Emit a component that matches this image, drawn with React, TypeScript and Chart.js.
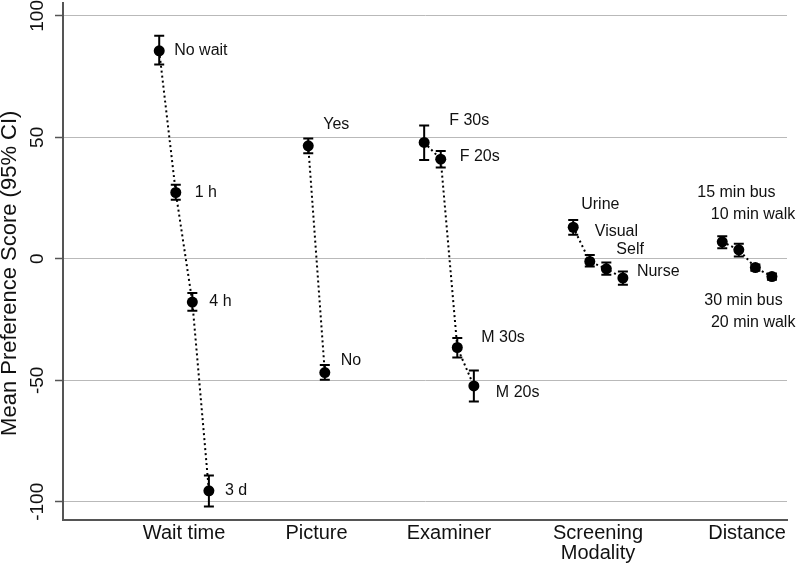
import React, { useEffect, useRef } from "react";
import { Chart, registerables } from "chart.js";

Chart.register(...registerables);

// ---- categories / axis ----
const groupNames: string[][] = [["Wait time"], ["Picture"], ["Examiner"], ["Screening", "Modality"], ["Distance"]];
const groupCenters = [2.5, 10.5, 18.5, 27.5, 36.5];
const yTicks = [-100, -50, 0, 50, 100];
const yTitle = "Mean Preference Score (95% CI)";

// ---- Wait time ----
const waitLabels = ["No wait", "1 h", "4 h", "3 d"];
const waitX = [1, 2, 3, 4];
const waitMean = [85.6, 27.3, -17.8, -95.5];
const waitLo = [80.0, 24.3, -21.4, -101.9];
const waitHi = [91.8, 30.5, -14.1, -89.2];
const waitDx = [15, 19, 17, 16];
const waitDy = [0, 0, 0, 0];

// ---- Picture ----
const pictureLabels = ["Yes", "No"];
const pictureX = [10, 11];
const pictureMean = [46.5, -46.8];
const pictureLo = [43.5, -49.8];
const pictureHi = [49.5, -43.7];
const pictureDx = [15, 16];
const pictureDy = [-21, -12];

// ---- Examiner ----
const examinerLabels = ["F 30s", "F 20s", "M 30s", "M 20s"];
const examinerX = [17, 18, 19, 20];
const examinerMean = [47.9, 41.0, -36.5, -52.3];
const examinerLo = [40.7, 37.6, -40.6, -58.7];
const examinerHi = [54.9, 44.4, -32.6, -46.0];
const examinerDx = [25, 19, 24, 22];
const examinerDy = [-22, -3, -10, 7];

// ---- Screening Modality ----
const screeningLabels = ["Urine", "Visual", "Self", "Nurse"];
const screeningX = [26, 27, 28, 29];
const screeningMean = [13.0, -1.1, -4.1, -7.9];
const screeningLo = [9.9, -3.2, -6.6, -10.7];
const screeningHi = [16.0, 1.6, -1.5, -5.2];
const screeningDx = [8, 5, 10, 14];
const screeningDy = [-23, -30, -19, -6];

// ---- Distance ----
const distanceLabels = ["15 min bus", "10 min walk", "30 min bus", "20 min walk"];
const distanceX = [35, 36, 37, 38];
const distanceMean = [7.0, 3.7, -3.6, -7.3];
const distanceLo = [4.4, 1.0, -4.9, -8.6];
const distanceHi = [9.3, 6.2, -2.3, -6.0];
const distanceDx = [-25, -28, -51, -61];
const distanceDy = [-49, -35, 33, 46];

type Group = { labels: string[]; x: number[]; mean: number[]; lo: number[]; hi: number[]; dx: number[]; dy: number[] };
const groups: Group[] = [
  { labels: waitLabels, x: waitX, mean: waitMean, lo: waitLo, hi: waitHi, dx: waitDx, dy: waitDy },
  { labels: pictureLabels, x: pictureX, mean: pictureMean, lo: pictureLo, hi: pictureHi, dx: pictureDx, dy: pictureDy },
  { labels: examinerLabels, x: examinerX, mean: examinerMean, lo: examinerLo, hi: examinerHi, dx: examinerDx, dy: examinerDy },
  { labels: screeningLabels, x: screeningX, mean: screeningMean, lo: screeningLo, hi: screeningHi, dx: screeningDx, dy: screeningDy },
  { labels: distanceLabels, x: distanceX, mean: distanceMean, lo: distanceLo, hi: distanceHi, dx: distanceDx, dy: distanceDy },
];

const FONT = "'Liberation Sans', Arial, Helvetica, sans-serif";

export default function App() {
  const ref = useRef<HTMLCanvasElement>(null);

  useEffect(() => {
    if (!ref.current) return;

    const datasets = groups.map((g) => ({
      type: "line" as const,
      data: g.x.map((x, i) => ({ x, y: g.mean[i] })),
      borderColor: "#000",
      borderWidth: 2,
      borderDash: [2, 3],
      pointRadius: 5.5,
      pointBackgroundColor: "#000",
      pointBorderColor: "#000",
      pointBorderWidth: 0,
      tension: 0,
      fill: false,
    }));

    const errorBars = {
      id: "errorBars",
      afterDatasetsDraw(chart: any) {
        const { ctx, scales } = chart;
        const xs = scales.x;
        const ys = scales.y;
        ctx.save();
        ctx.strokeStyle = "#000";
        ctx.lineWidth = 2;
        ctx.setLineDash([]);
        groups.forEach((g) => {
          g.x.forEach((xv, i) => {
            const px = xs.getPixelForValue(xv);
            const pLo = ys.getPixelForValue(g.lo[i]);
            const pHi = ys.getPixelForValue(g.hi[i]);
            ctx.beginPath();
            ctx.moveTo(px, pLo);
            ctx.lineTo(px, pHi);
            ctx.moveTo(px - 5, pLo);
            ctx.lineTo(px + 5, pLo);
            ctx.moveTo(px - 5, pHi);
            ctx.lineTo(px + 5, pHi);
            ctx.stroke();
          });
        });
        ctx.restore();
      },
    };

    const markerLabels = {
      id: "markerLabels",
      afterDatasetsDraw(chart: any) {
        const { ctx, scales } = chart;
        ctx.save();
        ctx.fillStyle = "#111";
        ctx.font = `16px ${FONT}`;
        ctx.textAlign = "left";
        ctx.textBaseline = "middle";
        groups.forEach((g) => {
          g.x.forEach((xv, i) => {
            const px = scales.x.getPixelForValue(xv);
            const py = scales.y.getPixelForValue(g.mean[i]);
            ctx.fillText(g.labels[i], px + g.dx[i], py + g.dy[i]);
          });
        });
        ctx.restore();
      },
    };

    // y-axis title, centred a little below the middle of the axis as in the reference
    const yAxisTitle = {
      id: "yAxisTitle",
      afterDraw(chart: any) {
        const { ctx, chartArea } = chart;
        ctx.save();
        ctx.fillStyle = "#111";
        ctx.font = `22px ${FONT}`;
        ctx.textAlign = "center";
        ctx.textBaseline = "middle";
        ctx.translate(10, (chartArea.top + chartArea.bottom) / 2 + 12);
        ctx.rotate(-Math.PI / 2);
        ctx.fillText(yTitle, 0, 0);
        ctx.restore();
      },
    };

    const chart = new Chart(ref.current, {
      type: "line",
      data: { datasets: datasets as any },
      options: {
        responsive: false,
        animation: false,
        layout: { autoPadding: false, padding: { top: 3, right: 12, left: 0, bottom: 0 } },
        plugins: { legend: { display: false }, tooltip: { enabled: false } },
        scales: {
          x: {
            type: "linear",
            min: -4.81,
            max: 38.91,
            afterBuildTicks: (s: any) => {
              s.ticks = groupCenters.map((v) => ({ value: v }));
            },
            afterFit: (s: any) => {
              s.height = 47.5;
              s.paddingLeft = 0;
              s.paddingRight = 0;
            },
            grid: { display: false, drawTicks: false },
            border: { display: true, color: "#555", width: 2 },
            ticks: {
              autoSkip: false,
              minRotation: 0,
              maxRotation: 0,
              padding: 4,
              color: "#111",
              font: { family: FONT, size: 20, lineHeight: 1.0 },
              callback: (_v: any, i: number) => groupNames[i],
            },
          },
          y: {
            type: "linear",
            min: -107.3,
            max: 105.3,
            afterBuildTicks: (s: any) => {
              s.ticks = yTicks.map((v) => ({ value: v }));
            },
            afterFit: (s: any) => {
              s.width = 63;
              s.paddingTop = 0;
              s.paddingBottom = 0;
            },
            grid: { color: "#b9b9b9", lineWidth: 1, drawTicks: true, tickLength: 8, tickColor: "#555", tickWidth: 1.5 },
            border: { display: true, color: "#555", width: 2 },
            ticks: {
              minRotation: 90,
              maxRotation: 90,
              crossAlign: "center",
              padding: -2,
              color: "#111",
              font: { family: FONT, size: 19 },
            },
            title: { display: false },
          },
        },
      } as any,
      plugins: [errorBars, markerLabels, yAxisTitle],
    });

    return () => chart.destroy();
  }, []);

  return (
    <div style={{ position: "absolute", left: 0, top: 0, width: 799, height: 567, background: "#fff" }}>
      <canvas ref={ref} width={799} height={567} style={{ display: "block" }} />
    </div>
  );
}
